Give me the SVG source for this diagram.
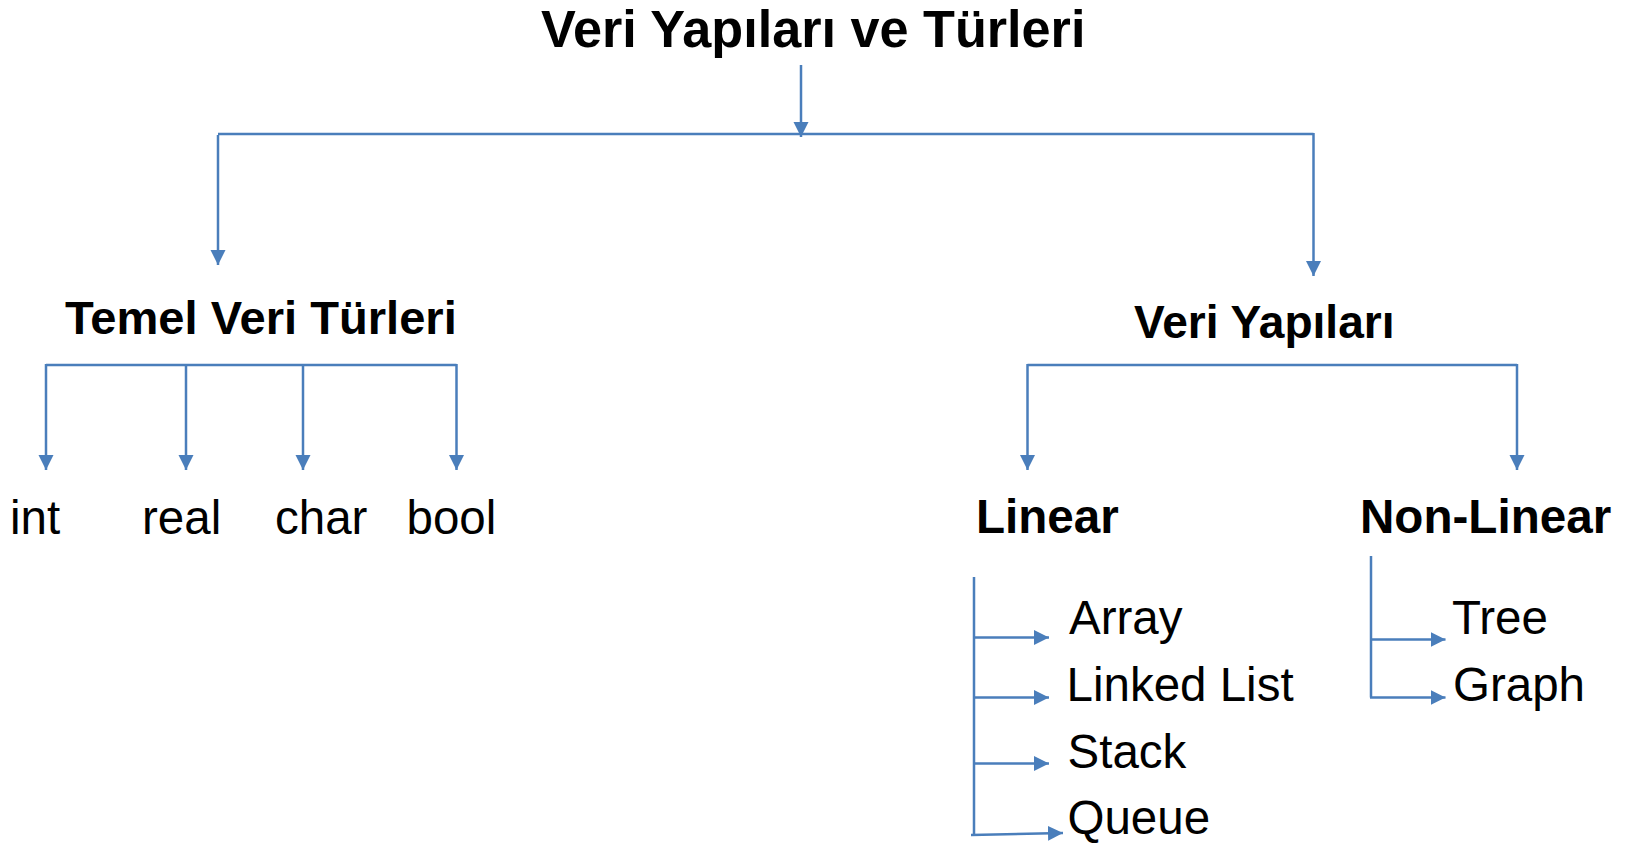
<svg xmlns="http://www.w3.org/2000/svg" width="1633" height="844" viewBox="0 0 1633 844">
  <style>
    .bg { fill: #ffffff; }
    .head { font-family: "Liberation Sans", Arial, sans-serif; font-weight: bold; fill: #000000; }
    .leaf { font-family: "Liberation Sans", Arial, sans-serif; font-weight: normal; fill: #000000; }
    .wire { fill: none; stroke: #4A7EBB; stroke-width: 2.5; }
    .arrow { marker-end: url(#tip); }
  </style>
  <defs>
    <marker id="tip" markerUnits="userSpaceOnUse" markerWidth="16" markerHeight="16" refX="15" refY="7.5" orient="auto">
      <path d="M0,0 L15,7.5 L0,15 Z" fill="#4A7EBB"/>
    </marker>
  </defs>

  <rect class="bg" x="0" y="0" width="1633" height="844"/>

  <!-- connectors -->
  <g id="connectors">
    <!-- root to first level -->
    <line class="wire arrow" x1="801" y1="65" x2="801" y2="137"/>
    <line class="wire" x1="218" y1="134" x2="1313.5" y2="134"/>
    <line class="wire arrow" x1="218" y1="135" x2="218" y2="265"/>
    <line class="wire arrow" x1="1313.5" y1="133" x2="1313.5" y2="276"/>

    <!-- basic types -->
    <line class="wire" x1="46" y1="365" x2="456.5" y2="365"/>
    <line class="wire arrow" x1="46" y1="364" x2="46" y2="470"/>
    <line class="wire arrow" x1="186" y1="365" x2="186" y2="470"/>
    <line class="wire arrow" x1="303" y1="365" x2="303" y2="470"/>
    <line class="wire arrow" x1="456.5" y1="364" x2="456.5" y2="470"/>

    <!-- data structures -->
    <line class="wire" x1="1027.5" y1="365" x2="1517" y2="365"/>
    <line class="wire arrow" x1="1027.5" y1="364" x2="1027.5" y2="470"/>
    <line class="wire arrow" x1="1517" y1="364" x2="1517" y2="470"/>

    <!-- linear bracket -->
    <line class="wire" x1="974" y1="577" x2="974" y2="835"/>
    <line class="wire arrow" x1="974" y1="637.5" x2="1049" y2="637.5"/>
    <line class="wire arrow" x1="974" y1="697.5" x2="1049" y2="697.5"/>
    <line class="wire arrow" x1="974" y1="763.5" x2="1049" y2="763.5"/>
    <line class="wire arrow" x1="971" y1="835" x2="1063" y2="833"/>

    <!-- non-linear bracket -->
    <line class="wire" x1="1371" y1="556" x2="1371" y2="697.5"/>
    <line class="wire arrow" x1="1371" y1="639.5" x2="1445.5" y2="639.5"/>
    <line class="wire arrow" x1="1370" y1="697.5" x2="1445.5" y2="697.5"/>
  </g>

  <!-- nodes -->
  <g id="root">
    <text class="head" x="541" y="47" font-size="52.2">Veri Yapıları ve Türleri</text>
  </g>
  <g id="temel">
    <text class="head" x="65" y="334" font-size="47.1">Temel Veri Türleri</text>
  </g>
  <g id="yapilar">
    <text class="head" x="1134" y="338" font-size="46.1">Veri Yapıları</text>
  </g>
  <g id="int"><text class="leaf" x="10" y="534" font-size="47.5">int</text></g>
  <g id="real"><text class="leaf" x="142" y="534" font-size="47.5">real</text></g>
  <g id="char"><text class="leaf" x="275" y="534" font-size="47.5">char</text></g>
  <g id="bool"><text class="leaf" x="406.5" y="534" font-size="47.5">bool</text></g>
  <g id="linear">
    <text class="head" x="976" y="533" font-size="47.6">Linear</text>
  </g>
  <g id="nonlinear">
    <text class="head" x="1360" y="533" font-size="47.6">Non-Linear</text>
  </g>
  <g id="array"><text class="leaf" x="1069" y="634" font-size="47.5">Array</text></g>
  <g id="linkedlist"><text class="leaf" x="1066.5" y="701" font-size="47.5">Linked List</text></g>
  <g id="stack"><text class="leaf" x="1067.5" y="768" font-size="47.5">Stack</text></g>
  <g id="queue"><text class="leaf" x="1067.5" y="834" font-size="47.5">Queue</text></g>
  <g id="tree"><text class="leaf" x="1452" y="634" font-size="47.5">Tree</text></g>
  <g id="graph"><text class="leaf" x="1453" y="701" font-size="47.5">Graph</text></g>
</svg>
